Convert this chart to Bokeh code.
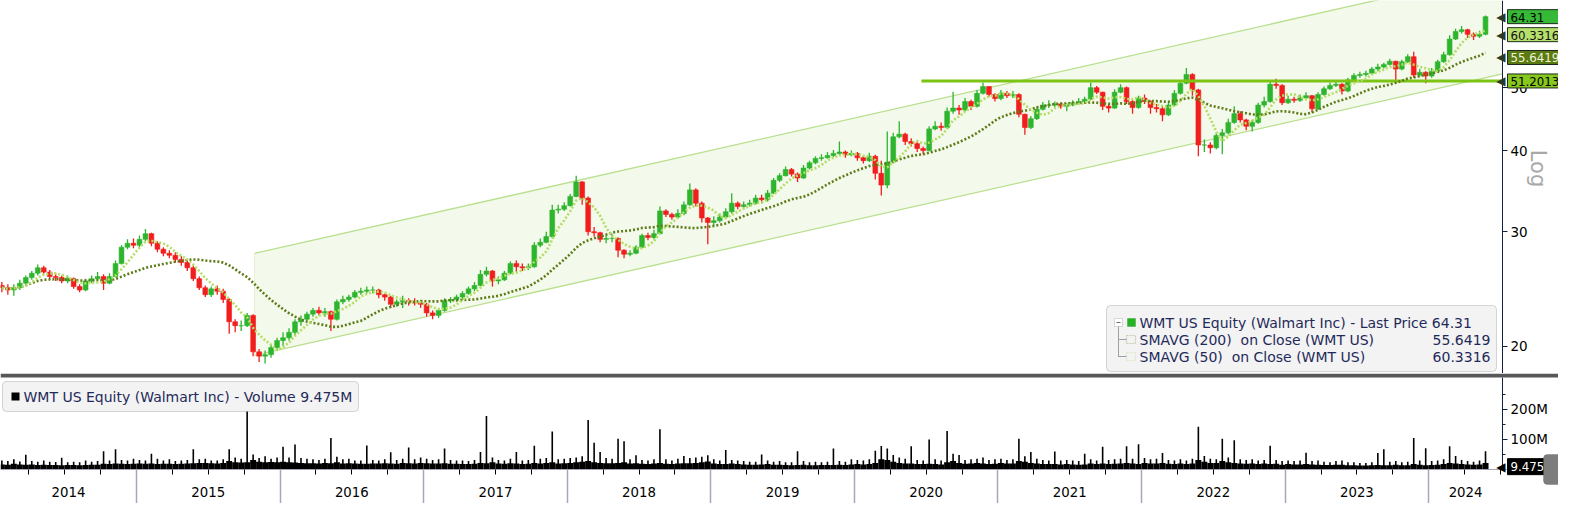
import math
import pandas as pd
from bokeh.plotting import figure
from bokeh.models import Range1d, FixedTicker, BoxAnnotation, Label, LabelSet, ColumnDataSource
from bokeh.layouts import column
from bokeh.embed import file_html
from bokeh.resources import INLINE
from bokeh.core.properties import value

FONT = "DejaVu Sans"

# ---------------- data (half-month bars, Jan H2 2014 .. May H2 2024) ----------------
first_open = 24.8
closes = (
    [24.6, 24.4, 24.6, 25.0, 25.5, 25.9, 26.4, 26.0, 25.6, 25.5, 25.2, 25.4, 24.7, 24.4, 25.2, 25.4, 25.6, 25.0, 25.6, 26.8, 28.4, 28.8, 28.6]
    + [29.2, 29.8, 28.8, 28.2, 27.8, 27.6, 27.2, 26.9, 26.4, 25.4, 24.6, 24.0, 24.5, 24.3, 23.6, 21.8, 21.5, 21.5, 22.3, 19.6, 19.3, 19.4, 19.9, 20.4]
    + [20.6, 21.0, 21.8, 22.0, 22.4, 22.7, 22.5, 22.6, 22.0, 23.4, 23.6, 23.8, 24.2, 24.3, 24.4, 24.4, 24.0, 23.8, 23.2, 23.4, 23.5, 23.4, 23.3, 23.2]
    + [22.5, 22.3, 22.7, 23.5, 23.6, 23.8, 24.1, 24.5, 24.8, 25.8, 26.1, 25.2, 25.3, 25.9, 26.8, 26.5, 26.4, 26.5, 28.6, 28.9, 29.5, 32.4, 32.5, 32.9]
    + [34.0, 35.8, 33.8, 30.0, 29.9, 29.2, 29.3, 29.3, 28.1, 27.7, 27.8, 28.4, 29.6, 29.4, 29.8, 32.3, 31.9, 31.6, 32.0, 33.0, 34.8, 33.2, 31.5, 31.0]
    + [31.2, 31.6, 32.2, 33.2, 32.8, 33.0, 33.2, 33.8, 33.6, 34.4, 36.0, 36.6, 37.4, 36.8, 36.3, 37.6, 38.3, 38.9, 39.0, 39.3, 39.6, 39.8, 39.4, 39.6]
    + [39.0, 38.6, 39.2, 36.9, 35.4, 38.4, 42.0, 42.4, 41.3, 41.0, 40.3, 40.0, 43.2, 43.6, 43.4, 46.0, 46.5, 46.2, 47.6, 46.8, 49.0, 50.2, 48.8, 48.1]
    + [49.0, 48.6, 48.8, 45.5, 43.4, 44.8, 46.3, 47.0, 47.0, 47.2, 46.8, 47.0, 47.4, 47.6, 48.0, 50.0, 49.2, 46.8, 46.5, 49.2, 50.0, 47.6, 46.6, 48.2]
    + [47.6, 46.6, 46.4, 45.4, 47.0, 49.0, 50.8, 52.4, 49.6, 40.8, 40.8, 40.4, 42.2, 42.6, 44.2, 45.6, 44.6, 43.6, 44.2, 47.0, 47.6, 50.6, 50.4, 47.4]
    + [48.0, 47.8, 48.2, 48.6, 46.4, 48.8, 49.8, 50.4, 50.6, 49.4, 51.4, 52.2, 52.4, 52.6, 53.4, 53.8, 54.3, 54.9, 53.4, 54.8, 55.8, 52.3, 52.8, 52.1]
    + [53.0, 54.8, 56.2, 59.4, 61.0, 61.4, 60.4, 60.0, 60.4, 64.31]
)
highs = (
    [25.1, 24.9, 24.9, 25.3, 25.7, 26.1, 26.7, 26.6, 26.2, 25.9, 25.7, 25.7, 25.5, 24.9, 25.4, 25.7, 26.0, 25.8, 25.9, 27.1, 28.6, 29.2, 29.3]
    + [29.6, 30.3, 29.9, 29.0, 28.4, 28.1, 27.9, 27.5, 27.1, 26.6, 25.6, 24.8, 24.7, 24.8, 24.5, 23.7, 22.0, 21.9, 22.5, 22.4, 19.8, 19.7, 20.1, 20.6]
    + [21.0, 21.3, 22.0, 22.3, 22.6, 22.9, 23.0, 22.9, 22.7, 23.6, 23.9, 24.0, 24.4, 24.6, 24.7, 24.7, 24.5, 24.1, 23.9, 23.6, 23.9, 23.7, 23.7, 23.5]
    + [23.3, 22.7, 22.9, 23.7, 23.8, 24.0, 24.3, 24.7, 25.1, 26.2, 26.5, 26.2, 25.6, 26.1, 27.0, 27.1, 26.8, 26.8, 28.9, 29.3, 30.0, 33.0, 33.0, 33.3]
    + [34.3, 36.6, 35.9, 34.0, 30.5, 30.0, 29.7, 29.8, 29.4, 28.2, 28.1, 28.6, 29.8, 29.9, 30.2, 32.8, 32.5, 32.1, 32.5, 33.4, 35.6, 35.0, 33.4, 31.6]
    + [31.7, 32.0, 32.6, 34.4, 33.4, 33.4, 33.6, 34.2, 34.2, 34.8, 36.3, 36.9, 37.8, 37.6, 37.0, 38.0, 38.6, 39.2, 39.5, 39.8, 40.1, 41.3, 40.0, 40.0]
    + [39.8, 39.3, 39.7, 39.4, 38.6, 42.8, 42.6, 44.4, 42.6, 41.8, 41.3, 40.6, 43.6, 44.4, 44.2, 46.6, 49.3, 47.0, 48.2, 47.9, 49.6, 50.9, 50.3, 49.0]
    + [49.6, 49.4, 49.4, 49.0, 45.6, 45.2, 46.6, 47.5, 47.8, 47.6, 47.4, 47.3, 47.8, 48.2, 48.4, 50.9, 50.3, 49.3, 47.2, 49.7, 50.6, 50.2, 47.9, 48.6]
    + [48.8, 47.8, 47.2, 46.8, 47.4, 49.6, 51.2, 53.6, 52.6, 49.8, 41.6, 41.2, 42.6, 43.2, 44.8, 46.8, 46.0, 44.8, 44.6, 47.4, 48.4, 51.0, 51.6, 50.6]
    + [48.6, 48.4, 48.8, 49.2, 48.7, 49.2, 50.2, 50.9, 51.2, 50.8, 51.8, 52.6, 52.9, 53.1, 53.8, 54.4, 54.6, 55.4, 55.0, 55.2, 56.3, 56.8, 53.4, 53.0]
    + [53.6, 55.2, 56.8, 60.2, 61.6, 62.2, 61.6, 60.8, 61.2, 64.6]
)
lows = (
    [24.2, 24.0, 23.9, 24.4, 24.8, 25.3, 25.7, 25.8, 25.3, 25.2, 25.0, 25.0, 24.5, 24.2, 24.3, 25.0, 25.3, 24.4, 24.9, 25.5, 26.7, 28.2, 28.3]
    + [28.4, 29.0, 28.5, 27.9, 27.5, 27.3, 26.9, 26.6, 26.1, 25.2, 24.4, 23.8, 23.8, 24.0, 23.3, 20.9, 21.0, 21.1, 21.4, 19.3, 18.9, 18.8, 19.2, 19.7]
    + [20.0, 20.4, 20.8, 21.5, 21.9, 22.2, 22.3, 22.2, 21.1, 21.9, 23.2, 23.4, 23.7, 24.0, 24.1, 24.1, 23.7, 23.5, 22.9, 23.0, 22.9, 23.1, 23.1, 22.9]
    + [22.2, 22.0, 22.1, 22.6, 23.3, 23.4, 23.6, 24.0, 24.3, 24.7, 25.6, 24.7, 24.9, 25.2, 25.8, 26.0, 26.1, 26.2, 26.4, 28.4, 28.8, 29.3, 32.0, 32.3]
    + [32.8, 33.9, 33.0, 29.6, 29.5, 28.9, 28.8, 28.9, 27.4, 27.3, 27.5, 27.7, 28.3, 29.1, 29.2, 29.7, 31.6, 31.3, 31.4, 31.8, 32.9, 32.8, 31.0, 28.7]
    + [30.7, 31.0, 31.5, 32.0, 32.5, 32.6, 32.8, 33.0, 33.2, 33.4, 34.3, 35.8, 36.5, 36.5, 35.8, 36.2, 37.4, 38.1, 38.6, 38.9, 39.1, 39.4, 39.0, 39.2]
    + [38.6, 38.2, 38.4, 36.1, 34.1, 35.0, 38.2, 41.8, 40.8, 40.6, 39.8, 39.5, 39.9, 43.0, 42.9, 43.2, 45.6, 45.4, 46.0, 46.2, 46.6, 48.8, 48.4, 47.6]
    + [47.8, 48.2, 48.2, 45.0, 42.3, 43.2, 44.6, 46.1, 46.5, 46.7, 46.4, 46.0, 46.8, 47.1, 47.3, 47.9, 48.9, 46.2, 45.8, 46.4, 49.0, 47.2, 45.6, 46.4]
    + [47.2, 45.6, 45.8, 44.4, 45.2, 46.8, 48.8, 50.6, 48.6, 39.2, 39.8, 39.6, 40.2, 39.5, 42.4, 44.0, 44.2, 43.0, 42.8, 44.0, 46.6, 47.4, 49.8, 47.0]
    + [47.2, 47.4, 47.5, 47.9, 45.8, 46.2, 48.6, 49.6, 50.1, 48.8, 49.2, 51.2, 51.8, 52.0, 52.4, 53.0, 53.5, 54.1, 50.8, 53.2, 54.6, 51.8, 52.0, 50.8]
    + [51.8, 52.8, 54.6, 56.0, 59.2, 60.6, 59.6, 59.2, 59.6, 60.2]
)
# typical and peak daily volume within each half-month (millions of shares)
vol_base = (
    [17, 16, 19, 17, 16, 17, 15, 16, 15, 15, 14, 15, 15, 14, 15, 16, 16, 19, 18, 20, 19, 18, 19]
    + [20, 19, 20, 18, 19, 19, 18, 19, 20, 21, 22, 22, 21, 20, 22, 28, 24, 23, 24, 32, 26, 24, 25, 24]
    + [26, 24, 23, 22, 21, 21, 20, 22, 21, 24, 20, 21, 20, 19, 19, 20, 20, 21, 20, 19, 22, 21, 20, 22]
    + [21, 20, 20, 21, 19, 19, 18, 18, 19, 22, 21, 24, 20, 19, 21, 20, 18, 19, 22, 20, 22, 24, 20, 21]
    + [22, 24, 26, 28, 24, 22, 21, 21, 22, 24, 20, 21, 19, 18, 20, 22, 19, 18, 20, 21, 21, 22, 24, 27]
    + [20, 18, 18, 20, 18, 17, 16, 16, 17, 18, 16, 16, 15, 14, 15, 16, 14, 14, 15, 15, 15, 16, 15, 17]
    + [18, 17, 18, 22, 34, 32, 26, 22, 20, 20, 18, 18, 19, 18, 17, 24, 28, 22, 19, 20, 22, 20, 18, 19]
    + [22, 20, 20, 28, 26, 22, 20, 18, 18, 18, 17, 18, 17, 16, 17, 20, 18, 20, 18, 19, 20, 22, 20, 18]
    + [22, 20, 20, 22, 19, 18, 20, 18, 20, 32, 26, 22, 22, 28, 24, 22, 20, 19, 20, 18, 20, 18, 19, 16]
    + [18, 17, 17, 18, 17, 16, 15, 15, 16, 16, 14, 14, 13, 13, 14, 15, 14, 14, 16, 14, 14, 18, 16, 14]
    + [15, 16, 18, 22, 20, 18, 17, 16, 17, 22]
)
vol_peak = (
    [30, 28, 34, 27, 49, 28, 26, 30, 26, 25, 39, 24, 26, 24, 30, 26, 28, 61, 30, 67, 32, 30, 36]
    + [32, 30, 52, 36, 30, 34, 28, 30, 32, 67, 34, 36, 30, 30, 34, 67, 40, 36, 235, 50, 38, 44, 36, 40]
    + [76, 40, 83, 38, 36, 34, 32, 36, 105, 42, 34, 36, 30, 30, 80, 32, 30, 34, 57, 32, 36, 73, 34, 40]
    + [36, 32, 34, 70, 32, 30, 30, 28, 32, 58, 178, 40, 32, 30, 36, 58, 30, 32, 79, 36, 38, 126, 34, 36]
    + [38, 40, 44, 165, 89, 58, 38, 36, 102, 94, 34, 47, 32, 30, 34, 134, 34, 30, 36, 45, 38, 40, 42, 47]
    + [34, 30, 65, 32, 30, 28, 26, 26, 50, 30, 26, 28, 24, 24, 61, 28, 24, 26, 24, 26, 70, 28, 26, 34]
    + [32, 30, 34, 62, 78, 70, 48, 40, 36, 77, 32, 30, 100, 34, 30, 128, 52, 48, 32, 34, 36, 40, 32, 34]
    + [36, 32, 34, 102, 44, 58, 36, 32, 30, 60, 30, 32, 30, 28, 52, 34, 30, 76, 32, 34, 36, 77, 36, 84]
    + [38, 34, 36, 55, 32, 30, 34, 30, 36, 142, 45, 36, 34, 102, 40, 97, 34, 32, 34, 30, 32, 79, 32, 28]
    + [30, 28, 30, 56, 28, 30, 26, 24, 28, 30, 24, 24, 22, 22, 24, 55, 67, 26, 28, 24, 26, 105, 30, 71]
    + [28, 30, 34, 77, 45, 32, 28, 26, 30, 61]
)
n = len(closes)
assert len(highs) == n and len(lows) == n and len(vol_base) == n and len(vol_peak) == n

# regression channel end points and resistance level
chan_t = [2015.822, 2024.514]
chan_lower = [19.35, 52.5]
chan_upper = [27.78, 75.4]
res_level = 51.2013
res_t = [2020.467, 2024.514]

last_price = "64.31"
sma200_last = "55.6419"
sma50_last = "60.3316"
res_label = "51.2013"
last_volume = 9.475e6
last_volume_label = "9.475M"

price_ticks = [20, 30, 40, 50]
price_tick_labels = ["20", "30", "40", "50"]
vol_ticks = [100e6, 200e6]
vol_tick_labels = ["100M", "200M"]
vol_minor_ticks = [50e6, 150e6, 250e6]
years = list(range(2014, 2025))
year_labels = [str(y) for y in years]

legend_main = "WMT US Equity (Walmart Inc) - Last Price 64.31"
legend_sma200 = "SMAVG (200)\u00a0 on Close (WMT US)"
legend_sma50 = "SMAVG (50)\u00a0 on Close (WMT US)"
legend_vol = "WMT US Equity (Walmart Inc) - Volume 9.475M"

SMA_LONG = 19   # ~200 trading days in half-month bars
SMA_SHORT = 5   # ~50 trading days

# ---------------- derived ----------------
t = [2014 + (i + 1.5) / 24 for i in range(n)]
opens = [first_open] + closes[:-1]
hi = [max(h, o, c) for h, o, c in zip(highs, opens, closes)]
lo = [min(l, o, c) for l, o, c in zip(lows, opens, closes)]
s = pd.Series(closes)
sma200 = s.rolling(SMA_LONG, min_periods=1).mean().tolist()
sma50 = s.rolling(SMA_SHORT, min_periods=1).mean().tolist()

# ---------------- layout constants ----------------
W = 1558
PH = 373          # price panel height
SEP = 4           # separator band at top of volume canvas
VPLOT = 92        # volume plotting height
VB = 34           # date axis band below the volume baseline
VH = SEP + VPLOT + VB
PX_PER_YEAR = 143.58
X0 = 2014.053
X_AXIS = 2024.514             # where the value axes sit
X_END = X0 + W / PX_PER_YEAR  # right edge of the canvas
VOL_TOP = 306e6
VOL_PER_PX = VOL_TOP / VPLOT

UP = "#2db52d"
DN = "#f21d1d"
NAVY = "#1f2a5a"
AXC = "#14203f"

p = figure(width=W, height=PH, x_range=Range1d(X0, X_END), y_range=Range1d(18.15, 68.1),
           y_axis_type="log", y_axis_location="right", x_axis_location=None,
           toolbar_location=None, output_backend="svg", min_border=0)
p.outline_line_color = None
p.grid.visible = False

p.patch(x=[chan_t[0], chan_t[1], chan_t[1], chan_t[0]],
        y=[chan_lower[0], chan_lower[1], chan_upper[1], chan_upper[0]],
        fill_color="#f3f9eb", line_color=None)
p.line(chan_t, chan_lower, line_color="#b9e08e", line_width=1.3)
p.line(chan_t, chan_upper, line_color="#b9e08e", line_width=1.3)
p.segment(x0=[chan_t[0]], y0=[chan_lower[0]], x1=[chan_t[0]], y1=[chan_upper[0]], line_color="#e2f1d2", line_width=1)

up_idx = [i for i in range(n) if closes[i] >= opens[i]]
dn_idx = [i for i in range(n) if closes[i] < opens[i]]
bw = 0.8 / 24
for idx, col in ((up_idx, UP), (dn_idx, DN)):
    src = ColumnDataSource(dict(
        t=[t[i] for i in idx], h=[hi[i] for i in idx], l=[lo[i] for i in idx],
        top=[max(opens[i], closes[i]) for i in idx], bot=[min(opens[i], closes[i]) for i in idx]))
    p.segment(x0="t", y0="l", x1="t", y1="h", source=src, line_color=col, line_width=1.3)
    p.vbar(x="t", width=bw, top="top", bottom="bot", source=src, fill_color=col, line_color=col, line_width=0.6)

p.line(res_t, [res_level, res_level], line_color="#7cc414", line_width=3)
p.line(t, sma200, line_color="#5d7c18", line_width=2.6, line_dash="2 2")
p.line(t, sma50, line_color="#b3dd63", line_width=2.6, line_dash="2 2")

yax = p.yaxis[0]
yax.fixed_location = X_AXIS
yax.ticker = FixedTicker(ticks=price_ticks, minor_ticks=[])
yax.major_label_overrides = {v: s_ for v, s_ in zip(price_ticks, price_tick_labels)}
yax.axis_line_color = AXC
yax.major_tick_line_color = AXC
yax.major_tick_out = 5
yax.major_tick_in = 0
yax.minor_tick_line_color = None
yax.major_label_text_font = FONT
yax.major_label_text_font_size = "13.5px"
yax.major_label_text_color = "#000000"
yax.major_label_standoff = 3

p.add_layout(Label(x=1537, y=205, x_units="screen", y_units="screen", text="Log", angle=-math.pi / 2,
                   text_align="center", text_baseline="middle", text_font=FONT,
                   text_font_size="21px", text_color="#a8a8a8"))

# right-side value tags
tags = [
    (float(last_price), last_price, "#36b936", "#000000"),
    (float(sma50_last), sma50_last, "#b6e06c", "#111111"),
    (float(sma200_last), sma200_last, "#5b7a10", "#eef5dc"),
    (res_level, res_label, "#86c81e", "#000000"),
]
for val, txt, bg, fg in tags:
    p.add_layout(Label(x=1505, y=val, x_units="screen", y_units="data", text="\u25C0",
                       text_align="right", text_baseline="middle", text_font=FONT,
                       text_font_size="12px", text_color="#2a3a2a"))
    p.add_layout(Label(x=1507, y=val, x_units="screen", y_units="data", text=txt,
                       text_align="left", text_baseline="middle", text_font=FONT,
                       text_font_size="11.8px", text_color=fg,
                       background_fill_color=bg, border_line_color="#1e2a1e", border_line_width=1,
                       padding=dict(left=3, right=40, top=3, bottom=2)))


def sbox(fig, l, r, b, tp, **kw):
    fig.add_layout(BoxAnnotation(left=l, right=r, bottom=b, top=tp, left_units="screen", right_units="screen",
                                 bottom_units="screen", top_units="screen", **kw))


# legend box (price)
sbox(p, 1106, 1496, 2, 68, fill_color="#f3f3f3", fill_alpha=1, line_color="#7f7f7f", line_width=1, border_radius=4)
sbox(p, 1114, 1122, 47, 55, fill_color="#ffffff", fill_alpha=1, line_color="#8a8a8a", line_width=1)
sbox(p, 1116, 1120, 50.5, 51.5, fill_color="#6a6a6a", fill_alpha=1, line_color=None)
sbox(p, 1117.5, 1118.5, 17, 47, fill_color="#a0a0a0", fill_alpha=1, line_color=None)
sbox(p, 1117.5, 1126, 33.5, 34.5, fill_color="#a0a0a0", fill_alpha=1, line_color=None)
sbox(p, 1117.5, 1126, 16.5, 17.5, fill_color="#a0a0a0", fill_alpha=1, line_color=None)
sbox(p, 1127, 1135, 47, 55, fill_color="#22b422", fill_alpha=1, line_color="#1a7a1a", line_width=1)
sbox(p, 1126, 1135, 30, 38, fill_color=None, line_color="#5d7c18", line_width=1.2, line_dash="2 1")
sbox(p, 1126, 1135, 13, 21, fill_color=None, line_color="#a9d86a", line_width=1.2, line_dash="2 1")
for txt, yy in ((legend_main, 51), (legend_sma200, 34), (legend_sma50, 17)):
    p.add_layout(Label(x=1139, y=yy, x_units="screen", y_units="screen", text=txt, text_align="left",
                       text_baseline="middle", text_font=FONT, text_font_size="14px", text_color=NAVY))
for txt, yy in ((sma200_last, 34), (sma50_last, 17)):
    p.add_layout(Label(x=1490, y=yy, x_units="screen", y_units="screen", text=txt, text_align="right",
                       text_baseline="middle", text_font=FONT, text_font_size="14px", text_color=NAVY))

# ---------------- volume panel ----------------
v = figure(width=W, height=VH, x_range=p.x_range,
           y_range=Range1d(-VB * VOL_PER_PX, (VPLOT + SEP) * VOL_PER_PX), y_axis_location="right",
           toolbar_location=None, output_backend="svg", min_border=0)
v.outline_line_color = None
v.grid.visible = False

v.vbar(x=t, width=1 / 24, top=[b * 1e6 for b in vol_base], bottom=0, fill_color="#000000", line_color=None)
v.segment(x0=t, y0=[0] * n, x1=t, y1=[pk * 1e6 for pk in vol_peak], line_color="#000000", line_width=1.6)
v.segment(x0=[X_AXIS], y0=[0], x1=[X_AXIS], y1=[VOL_TOP], line_color=AXC, line_width=1)

vy = v.yaxis[0]
vy.fixed_location = X_AXIS
vy.ticker = FixedTicker(ticks=vol_ticks, minor_ticks=vol_minor_ticks)
vy.major_label_overrides = {tk: lb for tk, lb in zip(vol_ticks, vol_tick_labels)}
vy.axis_line_color = None
vy.major_tick_line_color = AXC
vy.minor_tick_line_color = AXC
vy.major_tick_out = 5
vy.major_tick_in = 0
vy.minor_tick_out = 3
vy.minor_tick_in = 0
vy.major_label_text_font = FONT
vy.major_label_text_font_size = "13.5px"
vy.major_label_text_color = "#000000"
vy.major_label_standoff = 3

label_pos = [(max(y, X0) + min(y + 1, X_AXIS)) / 2 for y in years]
xmaj = [y + q for y in years for q in (0.25, 0.5, 0.75) if y + q <= X_AXIS]
xax = v.xaxis[0]
xax.fixed_location = 0
xax.ticker = FixedTicker(ticks=xmaj, minor_ticks=[float(y) for y in years[1:]])
xax.major_label_overrides = {tk: "" for tk in xmaj}
xax.major_tick_out = 5
xax.major_tick_in = 0
xax.major_tick_line_color = "#000000"
xax.minor_tick_out = VB
xax.minor_tick_in = 0
xax.minor_tick_line_color = "#a3a9bb"
xax.minor_tick_line_width = 1.5
xax.axis_line_color = "#a0a4b2"

year_src = ColumnDataSource(dict(x=label_pos, text=year_labels))
v.add_layout(LabelSet(x="x", y=12, x_units="data", y_units="screen", text="text", source=year_src,
                      text_align="center", text_baseline="middle", text_font=value(FONT),
                      text_font_size=value("13.3px"), text_color="#000000"))

# separator band between the panels
sbox(v, 0, W, VH - SEP, VH, fill_color="#585858", fill_alpha=1, line_color=None)

# volume legend
sbox(v, 2, 358, 92, 122, fill_color="#f3f3f3", fill_alpha=1, line_color="#7f7f7f", line_width=1, border_radius=4)
sbox(v, 11, 19, 103, 111, fill_color="#000000", fill_alpha=1, line_color=None)
v.add_layout(Label(x=23, y=107, x_units="screen", y_units="screen", text=legend_vol, text_align="left",
                   text_baseline="middle", text_font=FONT, text_font_size="14px", text_color=NAVY))
v.add_layout(Label(x=1505, y=last_volume, x_units="screen", y_units="data", text="\u25C0",
                   text_align="right", text_baseline="middle", text_font=FONT,
                   text_font_size="12px", text_color="#000000"))
v.add_layout(Label(x=1507, y=last_volume, x_units="screen", y_units="data", text=last_volume_label,
                   text_align="left", text_baseline="middle", text_font=FONT, text_font_size="11.8px",
                   text_color="#ffffff", background_fill_color="#000000", border_line_color="#000000",
                   padding=dict(left=3, right=4, top=1, bottom=1)))
sbox(v, 1543, 1562, 19, 49, fill_color="#7d7d7d", fill_alpha=1, line_color="#5a5a5a", border_radius=4)

layout = column(p, v, spacing=0)
open("out.html", "w").write(file_html(layout, INLINE))
